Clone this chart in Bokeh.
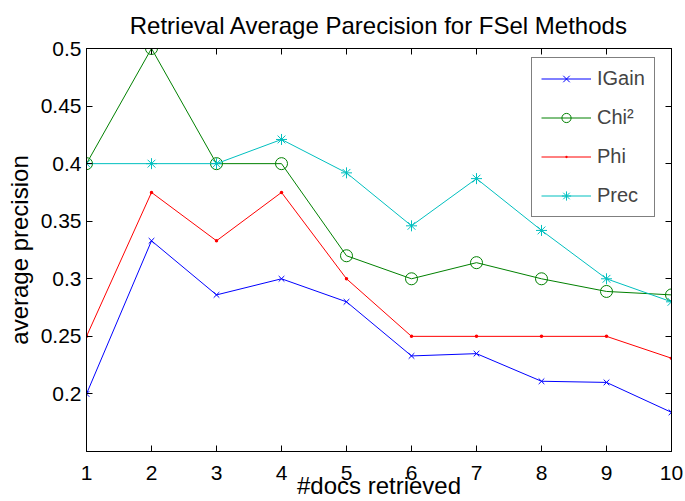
from bokeh.plotting import figure
from bokeh.models import (FixedTicker, LinearAxis, Legend, LegendItem, Range1d)
from bokeh.embed import file_html
from bokeh.resources import INLINE

# ---- data ----
docs = [1, 2, 3, 4, 5, 6, 7, 8, 9, 10]
igain = [0.200, 0.333, 0.286, 0.300, 0.280, 0.233, 0.235, 0.211, 0.210, 0.184]
chi2 = [0.400, 0.500, 0.400, 0.400, 0.320, 0.300, 0.314, 0.300, 0.289, 0.286]
phi = [0.250, 0.375, 0.333, 0.375, 0.300, 0.250, 0.250, 0.250, 0.250, 0.231]
prec = [0.400, 0.400, 0.400, 0.421, 0.392, 0.346, 0.387, 0.342, 0.300, 0.280]

x_ticks = [1, 2, 3, 4, 5, 6, 7, 8, 9, 10]
y_ticks = [0.2, 0.25, 0.3, 0.35, 0.4, 0.45, 0.5]
y_tick_labels = ["0.2", "0.25", "0.3", "0.35", "0.4", "0.45", "0.5"]

series_names = ["IGain", "Chi\u00b2", "Phi", "Prec"]
series_colors = ["#0000ff", "#008000", "#ff0000", "#00bfbf"]

FONT = "Liberation Sans"

p = figure(width=685, height=501, output_backend="svg", toolbar_location=None,
           x_range=Range1d(1, 10), y_range=Range1d(0.15, 0.5),
           min_border_left=86, min_border_right=14, min_border_top=48,
           min_border_bottom=50,
           title="Retrieval Average Parecision for FSel Methods")

p.background_fill_color = "white"
p.border_fill_color = "white"
p.outline_line_color = "black"
p.outline_line_width = 1
p.xgrid.visible = False
p.ygrid.visible = False

p.title.align = "center"
p.title.vertical_align = "middle"
p.title.text_font = FONT
p.title.text_font_size = "24px"
p.title.text_font_style = "normal"
p.title.text_color = "black"
p.title.standoff = 17

xa = p.xaxis[0]
xa.ticker = FixedTicker(ticks=x_ticks)
xa.axis_label = "#docs retrieved"
xa.axis_label_text_font = FONT
xa.axis_label_text_font_size = "24px"
xa.axis_label_text_font_style = "normal"
xa.axis_label_text_color = "black"
xa.axis_label_standoff = -11

ya = p.yaxis[0]
ya.ticker = FixedTicker(ticks=y_ticks)
ya.major_label_overrides = {t: l for t, l in zip(y_ticks, y_tick_labels)}
ya.axis_label = "average precision"
ya.axis_label_text_font = FONT
ya.axis_label_text_font_size = "24px"
ya.axis_label_text_font_style = "normal"
ya.axis_label_text_color = "black"
ya.axis_label_standoff = 5

for ax in (xa, ya):
    ax.major_tick_in = 6
    ax.major_tick_out = 0
    ax.minor_tick_line_color = None
    ax.axis_line_color = "black"
    ax.major_tick_line_color = "black"
    ax.major_label_text_font = FONT
    ax.major_label_text_font_size = "21px"
    ax.major_label_text_color = "black"
xa.major_label_standoff = 14
ya.major_label_standoff = 5

top = LinearAxis(ticker=FixedTicker(ticks=x_ticks), major_label_text_font_size="0px",
                 major_tick_in=6, major_tick_out=0, minor_tick_line_color=None,
                 major_label_standoff=0)
right = LinearAxis(ticker=FixedTicker(ticks=y_ticks), major_label_text_font_size="0px",
                   major_tick_in=6, major_tick_out=0, minor_tick_line_color=None,
                   major_label_standoff=0)
p.add_layout(top, "above")
p.add_layout(right, "right")

items = []
lr = p.line(docs, igain, line_color=series_colors[0], line_width=1)
sr = p.scatter(docs, igain, marker="x", size=8, line_color=series_colors[0], line_width=1)
items.append(LegendItem(label=series_names[0], renderers=[lr, sr]))

lr = p.line(docs, chi2, line_color=series_colors[1], line_width=1)
sr = p.scatter(docs, chi2, marker="circle", size=12, line_color=series_colors[1],
               fill_color=None, line_width=1)
items.append(LegendItem(label=series_names[1], renderers=[lr, sr]))

lr = p.line(docs, phi, line_color=series_colors[2], line_width=1)
sr = p.scatter(docs, phi, marker="dot", size=14, line_color=series_colors[2],
               fill_color=series_colors[2], line_width=1)
items.append(LegendItem(label=series_names[2], renderers=[lr, sr]))

lr = p.line(docs, prec, line_color=series_colors[3], line_width=1)
sr = p.scatter(docs, prec, marker="asterisk", size=11, line_color=series_colors[3], line_width=1)
items.append(LegendItem(label=series_names[3], renderers=[lr, sr]))

legend = Legend(items=items, location=(445, 234), border_line_color="black",
                border_line_width=1, background_fill_color="white", background_fill_alpha=1,
                label_text_font=FONT, label_text_font_size="20px", glyph_width=50,
                glyph_height=23, label_height=23, spacing=16, padding=9,
                label_standoff=6, margin=0)
p.add_layout(legend, "center")

open("out.html", "w").write(file_html(p, INLINE))
